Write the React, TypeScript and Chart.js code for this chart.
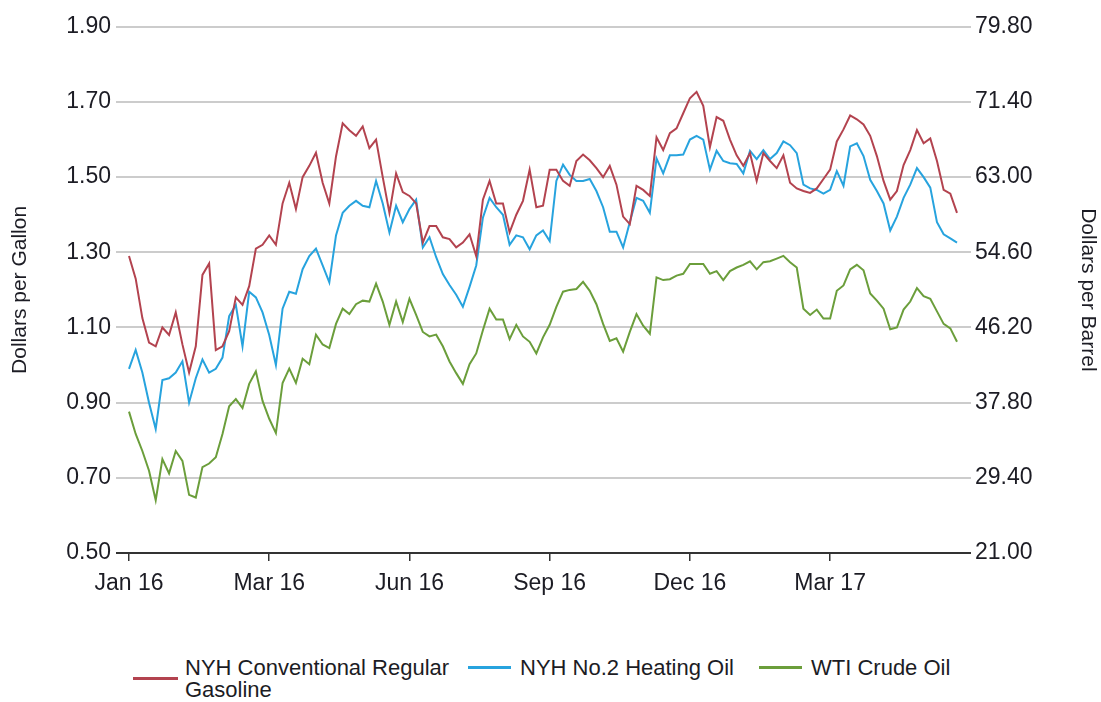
import React, { useEffect, useRef } from "react";
import { Chart, registerables } from "chart.js";

Chart.register(...registerables);

// NYH Conventional Regular Gasoline ($/gallon), sampled every ~3 trading days
const gasoline = [
  1.29, 1.23, 1.125, 1.06, 1.05, 1.10, 1.08, 1.14, 1.055, 0.98,
  1.05, 1.24, 1.27, 1.04, 1.05, 1.09, 1.18, 1.16, 1.21, 1.31,
  1.32, 1.345, 1.32, 1.43, 1.485, 1.415, 1.50, 1.53, 1.565, 1.485,
  1.43, 1.555, 1.643, 1.625, 1.61, 1.635, 1.577, 1.60, 1.50, 1.405,
  1.51, 1.46, 1.45, 1.43, 1.326, 1.37, 1.37, 1.34, 1.335, 1.313,
  1.326, 1.348, 1.29, 1.44, 1.49, 1.43, 1.43, 1.353, 1.40, 1.437,
  1.52, 1.42, 1.424, 1.52, 1.52, 1.49, 1.477, 1.543, 1.56, 1.545,
  1.524, 1.50, 1.53, 1.48, 1.395, 1.375, 1.477, 1.466, 1.45, 1.606,
  1.572, 1.617, 1.63, 1.67, 1.71, 1.727, 1.69, 1.58, 1.66, 1.65,
  1.60, 1.558, 1.53, 1.564, 1.49, 1.564, 1.543, 1.524, 1.558, 1.485,
  1.47, 1.463, 1.458, 1.47, 1.495, 1.52, 1.595, 1.627, 1.664, 1.654,
  1.64, 1.61, 1.556, 1.49, 1.44, 1.463, 1.532, 1.572, 1.625, 1.59,
  1.603, 1.543, 1.466, 1.456, 1.405,
];

// NYH No.2 Heating Oil ($/gallon)
const heatingOil = [
  0.99, 1.04, 0.98, 0.90, 0.83, 0.96, 0.965, 0.98, 1.01, 0.90,
  0.965, 1.015, 0.98, 0.99, 1.02, 1.13, 1.16, 1.05, 1.195, 1.18,
  1.14, 1.08, 1.00, 1.15, 1.195, 1.19, 1.255, 1.29, 1.31, 1.265,
  1.22, 1.345, 1.405, 1.424, 1.437, 1.424, 1.42, 1.49, 1.43, 1.353,
  1.424, 1.38, 1.415, 1.44, 1.313, 1.34, 1.287, 1.242, 1.213, 1.187,
  1.155, 1.208, 1.265, 1.392, 1.445, 1.42, 1.40, 1.32, 1.345, 1.34,
  1.308, 1.345, 1.358, 1.33, 1.49, 1.533, 1.506, 1.49, 1.49, 1.495,
  1.463, 1.42, 1.355, 1.355, 1.313, 1.38, 1.445, 1.437, 1.405, 1.55,
  1.51, 1.558, 1.558, 1.56, 1.60, 1.61, 1.60, 1.52, 1.57, 1.543,
  1.537, 1.535, 1.51, 1.57, 1.548, 1.572, 1.548, 1.564, 1.595, 1.585,
  1.564, 1.48, 1.47, 1.466, 1.456, 1.466, 1.516, 1.477, 1.582, 1.59,
  1.556, 1.493, 1.463, 1.43, 1.358, 1.395, 1.445, 1.48, 1.524, 1.50,
  1.472, 1.38, 1.348, 1.337, 1.326,
];

// WTI Crude Oil ($/barrel, right axis)
const wtiCrude = [
  36.8, 34.3, 32.4, 30.2, 26.9, 31.5, 29.9, 32.4, 31.3, 27.5,
  27.2, 30.6, 31.0, 31.7, 34.3, 37.4, 38.2, 37.2, 39.9, 41.3,
  38.0, 36.0, 34.4, 40.0, 41.6, 40.0, 42.7, 42.1, 45.4, 44.3,
  43.9, 46.6, 48.3, 47.7, 48.8, 49.2, 49.1, 51.1, 49.1, 46.5,
  49.1, 46.8, 49.4, 47.6, 45.7, 45.2, 45.4, 44.1, 42.4, 41.1,
  39.9, 42.1, 43.3, 45.9, 48.3, 47.1, 47.1, 44.9, 46.5, 45.2,
  44.6, 43.3, 45.1, 46.5, 48.5, 50.2, 50.4, 50.5, 51.3, 50.3,
  48.8, 46.6, 44.7, 45.0, 43.5, 45.7, 47.7, 46.4, 45.5, 51.8,
  51.5, 51.6, 52.0, 52.2, 53.3, 53.3, 53.3, 52.2, 52.5, 51.5,
  52.5, 52.9, 53.2, 53.6, 52.7, 53.5, 53.6, 53.9, 54.2, 53.5,
  52.9, 48.3, 47.6, 48.2, 47.2, 47.2, 50.3, 50.9, 52.7, 53.2,
  52.6, 50.0, 49.2, 48.3, 46.0, 46.2, 48.2, 49.1, 50.6, 49.7,
  49.4, 48.0, 46.6, 46.1, 44.6,
];

const categories = gasoline.map((_, i) => String(i));
const tickIndex = [0, 21, 42, 63, 84, 105];
const tickLabels = ["Jan 16", "Mar 16", "Jun 16", "Sep 16", "Dec 16", "Mar 17"];
const gallonTicks = [0.5, 0.7, 0.9, 1.1, 1.3, 1.5, 1.7, 1.9];
const barrelTicks = [21, 29.4, 37.8, 46.2, 54.6, 63, 71.4, 79.8];
const seriesNames = ["NYH Conventional Regular Gasoline", "NYH No.2 Heating Oil", "WTI Crude Oil"];
const seriesColors = ["#b3434f", "#27a3de", "#6b9e3b"];

const FONT = "'Liberation Sans', Arial, sans-serif";
const TEXT = "#1c1c24";

export default function App() {
  const ref = useRef<HTMLCanvasElement | null>(null);

  useEffect(() => {
    const prevMargin = document.body.style.margin;
    document.body.style.margin = "0";
    if (!ref.current) return;
    const chart = new Chart(ref.current, {
      type: "line",
      data: {
        labels: categories,
        datasets: [
          { label: seriesNames[0], data: gasoline, borderColor: seriesColors[0], yAxisID: "y", borderWidth: 2, pointRadius: 0, tension: 0 },
          { label: seriesNames[1], data: heatingOil, borderColor: seriesColors[1], yAxisID: "y", borderWidth: 2, pointRadius: 0, tension: 0 },
          { label: seriesNames[2], data: wtiCrude, borderColor: seriesColors[2], yAxisID: "y1", borderWidth: 2, pointRadius: 0, tension: 0 },
        ],
      },
      options: {
        responsive: false,
        animation: false,
        layout: { padding: { top: 14, left: 0, right: 0, bottom: 0 } },
        plugins: { legend: { display: false }, tooltip: { enabled: false } },
        scales: {
          x: {
            type: "category",
            afterBuildTicks: (axis: any) => {
              axis.ticks = tickIndex.map((v) => ({ value: v }));
            },
            afterFit: (axis: any) => {
              axis.height = 55;
            },
            ticks: {
              autoSkip: false,
              maxRotation: 0,
              minRotation: 0,
              padding: 9,
              color: TEXT,
              font: { family: FONT, size: 23 },
              callback: (v: any) => tickLabels[tickIndex.indexOf(Number(v))],
            },
            grid: { display: true, drawOnChartArea: false, drawTicks: true, tickLength: 8, color: "#333333", lineWidth: 1.5 },
            border: { display: true, color: "#333333", width: 2 },
          },
          y: {
            type: "linear",
            position: "left",
            min: 0.5,
            max: 1.9,
            afterBuildTicks: (axis: any) => {
              axis.ticks = gallonTicks.map((v) => ({ value: v }));
            },
            afterFit: (axis: any) => {
              axis.width = 121;
            },
            ticks: {
              padding: 5,
              color: TEXT,
              font: { family: FONT, size: 23 },
              callback: (v: any) => Number(v).toFixed(2),
            },
            grid: {
              color: (ctx: any) => (ctx.tick && ctx.tick.value === 0.5 ? "#333333" : "#cccccc"),
              lineWidth: 2,
              tickLength: 13,
              drawTicks: true,
            },
            border: { display: false },
            title: { display: true, text: "Dollars per Gallon", color: TEXT, font: { family: FONT, size: 21 }, padding: 0 },
          },
          y1: {
            type: "linear",
            position: "right",
            min: 21,
            max: 79.8,
            afterBuildTicks: (axis: any) => {
              axis.ticks = barrelTicks.map((v) => ({ value: v }));
            },
            afterFit: (axis: any) => {
              axis.width = 144;
            },
            ticks: {
              padding: 4,
              color: TEXT,
              font: { family: FONT, size: 23 },
              callback: (v: any) => Number(v).toFixed(2),
            },
            grid: {
              drawOnChartArea: false,
              drawTicks: true,
              tickLength: 14,
              color: (ctx: any) => (ctx.tick && ctx.tick.value === 21 ? "#333333" : "#cccccc"),
              lineWidth: 2,
            },
            border: { display: false },
            title: {
              display: true,
              text: "Dollars per Barrel",
              color: TEXT,
              font: { family: FONT, size: 21 },
              padding: { top: 1, bottom: 0 },
            },
          },
        },
      },
    } as any);
    return () => {
      chart.destroy();
      document.body.style.margin = prevMargin;
    };
  }, []);

  const textStyle: React.CSSProperties = {
    position: "absolute",
    fontFamily: FONT,
    fontSize: 22,
    lineHeight: "22px",
    color: TEXT,
    whiteSpace: "normal",
  };
  const swatch = (color: string): React.CSSProperties => ({
    position: "absolute",
    height: 3,
    background: color,
  });

  return (
    <div style={{ position: "relative", width: 1101, height: 702, overflow: "hidden" }}>
      <canvas ref={ref} width={1093} height={600} style={{ display: "block", position: "absolute", left: 8, top: 8 }} />
      <div style={{ ...swatch(seriesColors[0]), left: 133, top: 677, width: 45 }} />
      <div style={{ ...textStyle, left: 185, top: 657, width: 280 }}>{seriesNames[0]}</div>
      <div style={{ ...swatch(seriesColors[1]), left: 468, top: 666, width: 43 }} />
      <div style={{ ...textStyle, left: 520, top: 657, whiteSpace: "nowrap" }}>{seriesNames[1]}</div>
      <div style={{ ...swatch(seriesColors[2]), left: 759, top: 666, width: 43 }} />
      <div style={{ ...textStyle, left: 811, top: 657, whiteSpace: "nowrap" }}>{seriesNames[2]}</div>
    </div>
  );
}
